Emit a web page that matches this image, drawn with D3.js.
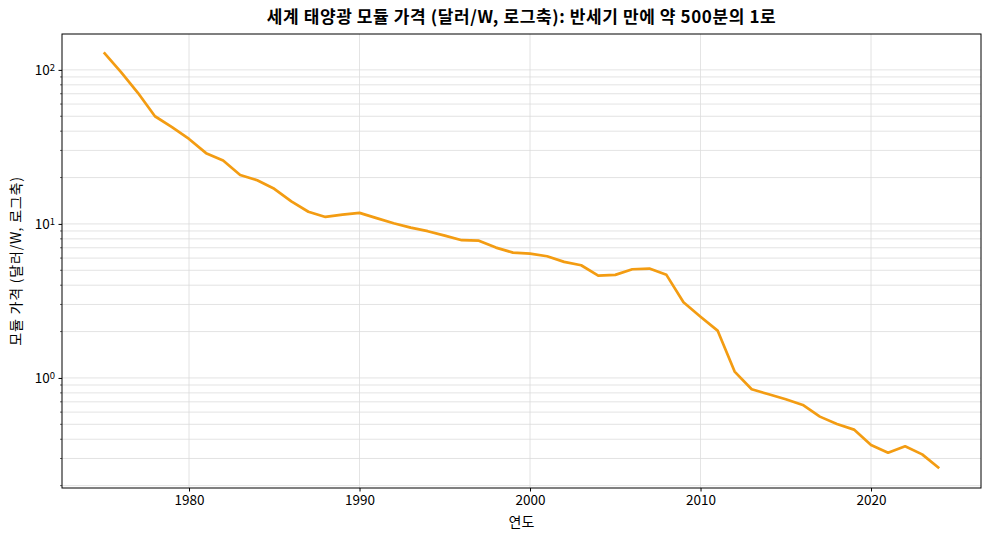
<!DOCTYPE html>
<html>
<head>
    <meta charset="utf-8">
    <title>세계 태양광 모듈 가격</title>
    <style>
        body {
            margin: 0;
            background: #fff;
        }

        svg text {
            font-family: "Noto Sans CJK KR", "Noto Sans", sans-serif;
        }

        .grid line {
            stroke: #dcdcdc;
            stroke-width: 0.8;
        }
    </style>
    <script src="https://d3js.org/d3.v7.min.js"></script>
</head>
<body>
<div id="chart"></div>
<script>
    // 연도별 모듈 가격 (달러/W), 그림에서 읽은 값
    const years = [1975, 1976, 1977, 1978, 1979, 1980, 1981, 1982, 1983, 1984,
        1985, 1986, 1987, 1988, 1989, 1990, 1991, 1992, 1993, 1994,
        1995, 1996, 1997, 1998, 1999, 2000, 2001, 2002, 2003, 2004,
        2005, 2006, 2007, 2008, 2009, 2010, 2011, 2012, 2013, 2014,
        2015, 2016, 2017, 2018, 2019, 2020, 2021, 2022, 2023, 2024];
    const prices = [130, 97, 71, 50, 42.5, 35.6, 28.8, 25.8, 20.8, 19.2,
        16.9, 14.0, 12.0, 11.1, 11.5, 11.8, 10.9, 10.1, 9.46, 8.97,
        8.4, 7.84, 7.79, 7.02, 6.51, 6.41, 6.17, 5.67, 5.39, 4.62,
        4.67, 5.08, 5.13, 4.67, 3.10, 2.50, 2.03, 1.10, 0.844, 0.783,
        0.727, 0.668, 0.561, 0.503, 0.462, 0.367, 0.327, 0.360, 0.319, 0.259];
    const xTicks = [1980, 1990, 2000, 2010, 2020];
    const yMajor = [1, 10, 100];

    const width = 989, height = 540;
    const margin = {top: 34, right: 8, bottom: 52, left: 62};

    const svg = d3.select("#chart").append("svg")
        .attr("width", width)
        .attr("height", height);

    const x = d3.scaleLinear()
        .domain([1972.55, 2026.45])
        .range([margin.left, width - margin.right]);

    const y = d3.scaleLog()
        .domain([0.193, 171])
        .range([height - margin.bottom, margin.top]);

    // 보조 눈금 (2~9 배)
    const yMinor = [];
    [0.1, 1, 10, 100].forEach(base => {
        for (let k = 2; k <= 9; k++) {
            const v = base * k;
            if (v > y.domain()[0] && v < y.domain()[1]) yMinor.push(v);
        }
    });

    // 격자
    const grid = svg.append("g").attr("class", "grid");
    grid.selectAll("line.gy")
        .data(yMajor.concat(yMinor))
        .join("line")
        .attr("class", "gy")
        .attr("x1", margin.left)
        .attr("x2", width - margin.right)
        .attr("y1", d => y(d))
        .attr("y2", d => y(d));
    grid.selectAll("line.gx")
        .data(xTicks)
        .join("line")
        .attr("class", "gx")
        .attr("x1", d => x(d))
        .attr("x2", d => x(d))
        .attr("y1", margin.top)
        .attr("y2", height - margin.bottom);

    // 선
    const line = d3.line()
        .x((d, i) => x(years[i]))
        .y(d => y(d));

    svg.append("path")
        .datum(prices)
        .attr("d", line)
        .attr("fill", "none")
        .attr("stroke", "#f39c12")
        .attr("stroke-width", 2.7)
        .attr("stroke-linejoin", "round");

    // 테두리
    svg.append("rect")
        .attr("x", margin.left)
        .attr("y", margin.top)
        .attr("width", width - margin.left - margin.right)
        .attr("height", height - margin.top - margin.bottom)
        .attr("fill", "none")
        .attr("stroke", "#000")
        .attr("stroke-width", 1);

    // x축
    const xAxis = svg.append("g")
        .attr("transform", `translate(0,${height - margin.bottom})`)
        .call(d3.axisBottom(x).tickValues(xTicks).tickFormat(d3.format("d")).tickSize(3.5).tickPadding(4));
    xAxis.select(".domain").remove();
    xAxis.selectAll("text").attr("font-size", 13.5).attr("fill", "#000")
        .style("font-family", '"Noto Sans CJK KR", sans-serif');

    // y축 (주 눈금)
    const yAxis = svg.append("g")
        .attr("transform", `translate(${margin.left},0)`)
        .call(d3.axisLeft(y).tickValues(yMajor).tickFormat("").tickSize(3.5));
    yAxis.select(".domain").remove();
    yAxis.selectAll(".tick").append("text")
        .attr("x", -7)
        .attr("dy", "0.35em")
        .attr("text-anchor", "end")
        .attr("fill", "#000")
        .attr("font-size", 13.5)
        .style("font-family", '"Noto Sans CJK KR", sans-serif')
        .each(function (d) {
            const t = d3.select(this);
            t.append("tspan").text("10");
            t.append("tspan")
                .attr("dy", "-0.45em")
                .attr("font-size", 9.5)
                .text(String(Math.round(Math.log10(d))));
        });

    // y축 (보조 눈금)
    svg.append("g")
        .selectAll("line")
        .data(yMinor)
        .join("line")
        .attr("x1", margin.left - 2)
        .attr("x2", margin.left)
        .attr("y1", d => y(d))
        .attr("y2", d => y(d))
        .attr("stroke", "#000")
        .attr("stroke-width", 0.6);

    // 제목과 축 이름
    svg.append("text")
        .attr("x", (margin.left + width - margin.right) / 2)
        .attr("y", 23)
        .attr("text-anchor", "middle")
        .attr("font-size", 17)
        .attr("letter-spacing", 0.6)
        .attr("font-weight", "bold")
        .text("세계 태양광 모듈 가격 (달러/W, 로그축): 반세기 만에 약 500분의 1로");

    svg.append("text")
        .attr("x", (margin.left + width - margin.right) / 2)
        .attr("y", 527)
        .attr("text-anchor", "middle")
        .attr("font-size", 14)
        .text("연도");

    svg.append("text")
        .attr("transform", `translate(21,${(margin.top + height - margin.bottom) / 2}) rotate(-90)`)
        .attr("text-anchor", "middle")
        .attr("font-size", 14)
        .attr("letter-spacing", 0.8)
        .text("모듈 가격 (달러/W, 로그축)");
</script>
</body>
</html>
